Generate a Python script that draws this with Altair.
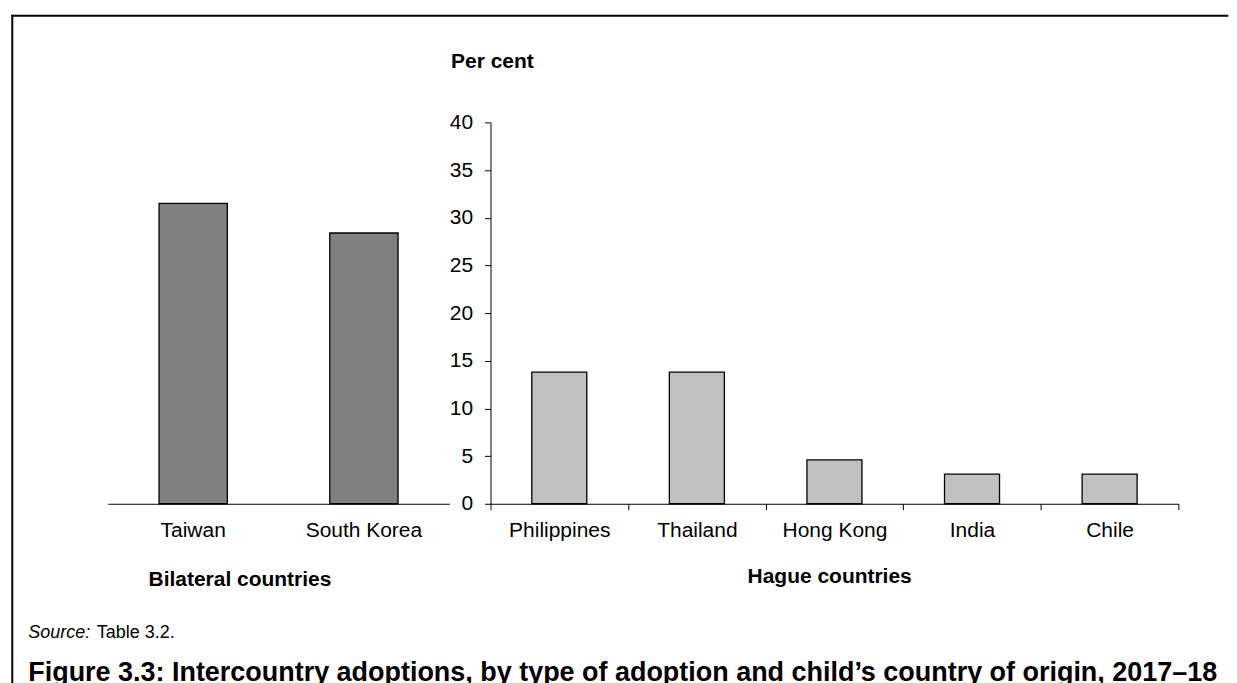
import altair as alt
import pandas as pd

# ---- data ----
bilateral_countries = ["Taiwan", "South Korea"]
bilateral_values = [31.5, 28.4]
hague_countries = ["Philippines", "Thailand", "Hong Kong", "India", "Chile"]
hague_values = [13.8, 13.8, 4.6, 3.1, 3.1]
y_ticks = [0, 5, 10, 15, 20, 25, 30, 35, 40]

y_title = "Per cent"
left_title = "Bilateral countries"
right_title = "Hague countries"
source_label = "Source:"
source_text = "Table 3.2."
figure_title = "Figure 3.3: Intercountry adoptions, by type of adoption and child\u2019s country of origin, 2017\u201318"

FONT = "Liberation Sans, Arial, sans-serif"
H = 382
LW = 342
RW = 689

left_df = pd.DataFrame({"country": bilateral_countries, "value": bilateral_values})
right_df = pd.DataFrame({"country": hague_countries, "value": hague_values})

yscale = alt.Scale(domain=[0, 40], nice=False, zero=True)

common_axis = dict(
    labelFont=FONT, titleFont=FONT, labelFontSize=21, titleFontSize=21,
    labelColor="black", titleColor="black", titleFontWeight="bold",
    domainColor="black", tickColor="black", domainWidth=1, tickWidth=1,
    grid=False,
)

left_bars = alt.Chart(left_df).mark_bar(
    width=alt.RelativeBandSize(0.4), fill="#808080", stroke="black", strokeWidth=1.3
).encode(
    x=alt.X("country:N", sort=bilateral_countries,
            scale=alt.Scale(paddingInner=0, paddingOuter=0),
            axis=alt.Axis(title=left_title, titleX=131.8, titleY=82.3, titleAlign="center",
                          titleBaseline="alphabetic", labelAngle=0, labelBaseline="alphabetic",
                          labelPadding=26.3, tickSize=6, tickOpacity=0, **common_axis)),
    y=alt.Y("value:Q", scale=yscale, axis=None),
)

one = pd.DataFrame({"k": [0]})
# frame: top edge and left edge (the right and bottom edges lie outside the picture)
frame_top = alt.Chart(one).mark_rule(stroke="black", strokeWidth=2, strokeCap="square").encode(
    x=alt.value(-95.7), x2=alt.value(1121.3), y=alt.value(-106.7)
)
frame_left = alt.Chart(one).mark_rule(stroke="black", strokeWidth=2, strokeCap="square").encode(
    x=alt.value(-95.7), y=alt.value(-106.7), y2=alt.value(590)
)

src_label = alt.Chart(pd.DataFrame({"t": [source_label]})).mark_text(
    align="left", baseline="alphabetic", fontStyle="italic", fontSize=18, font=FONT, color="black"
).encode(text="t:N", x=alt.value(-79.7), y=alt.value(516.3))

src_text = alt.Chart(pd.DataFrame({"t": [source_text]})).mark_text(
    align="left", baseline="alphabetic", fontSize=18, font=FONT, color="black"
).encode(text="t:N", x=alt.value(-11.0), y=alt.value(516.3))

fig_title = alt.Chart(pd.DataFrame({"t": [figure_title]})).mark_text(
    align="left", baseline="alphabetic", fontSize=27, fontWeight="bold", font=FONT, color="black"
).encode(text="t:N", x=alt.value(-79.7), y=alt.value(559.6))

left = alt.layer(left_bars, frame_top, frame_left, src_label, src_text, fig_title).properties(
    width=LW, height=H)

right = alt.Chart(right_df).mark_bar(
    width=alt.RelativeBandSize(0.4), fill="#C0C0C0", stroke="black", strokeWidth=1.3
).encode(
    x=alt.X("country:N", sort=hague_countries,
            scale=alt.Scale(paddingInner=0, paddingOuter=0),
            axis=alt.Axis(title=right_title, titleX=339.2, titleY=79, titleAlign="center",
                          titleBaseline="alphabetic", labelAngle=0, labelBaseline="alphabetic",
                          labelPadding=26.3, tickSize=6, tickBand="extent", **common_axis)),
    y=alt.Y("value:Q", scale=yscale,
            axis=alt.Axis(title=y_title, values=y_ticks, titleAngle=0, titleX=-40, titleY=-54.7,
                          titleAlign="left", titleBaseline="alphabetic", tickSize=6,
                          labelPadding=12, **common_axis)),
).properties(width=RW, height=H)

chart = alt.hconcat(left, right, spacing=41.3, bounds="flush").properties(
    padding={"left": 2, "top": 5, "right": 0, "bottom": 0}
).configure(font=FONT, background="white").configure_view(strokeWidth=0, stroke="transparent")

chart.save("out.html", embed_options={"renderer": "svg", "actions": False})
